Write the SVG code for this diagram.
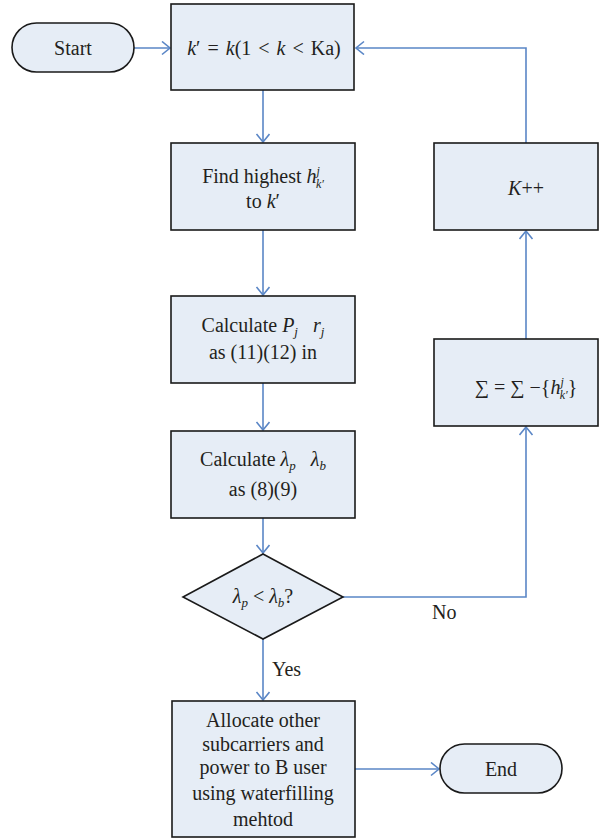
<svg xmlns="http://www.w3.org/2000/svg" width="608" height="838" viewBox="0 0 608 838">
<defs>
<style>
.n{fill:#E6EDF6;stroke:#1a1a1a;stroke-width:1.6}
.t{font-family:"Liberation Serif","Times New Roman",serif;font-size:20px;fill:#231f20;text-anchor:middle}
.l{font-family:"Liberation Serif","Times New Roman",serif;font-size:20px;fill:#231f20}
.i{font-style:italic}
.c{fill:none;stroke:#5A86C6;stroke-width:1.6}
</style>
<marker id="ah" markerUnits="userSpaceOnUse" markerWidth="14" markerHeight="16" refX="9" refY="7" orient="auto">
<path d="M1,0.5 L9,7 L1,13.5" fill="none" stroke="#5A86C6" stroke-width="1.6"/>
</marker>
</defs>
<g id="connectors">
<path class="c" d="M134,48 H170" marker-end="url(#ah)"/>
<path class="c" d="M263,90 V142" marker-end="url(#ah)"/>
<path class="c" d="M263,230 V295" marker-end="url(#ah)"/>
<path class="c" d="M263,383 V430" marker-end="url(#ah)"/>
<path class="c" d="M263,518 V553" marker-end="url(#ah)"/>
<path class="c" d="M263,639 V700" marker-end="url(#ah)"/>
<path class="c" d="M355,769 H439" marker-end="url(#ah)"/>
<path class="c" d="M343,597 H526 V427" marker-end="url(#ah)"/>
<path class="c" d="M526,339 V231" marker-end="url(#ah)"/>
<path class="c" d="M526,143 V48 H356" marker-end="url(#ah)"/>
<text class="l" x="432" y="619">No</text>
<text class="l" x="272" y="676">Yes</text>
</g>
<g id="start">
<rect class="n" x="12" y="23" width="122" height="49" rx="24.5"/>
<text class="t" x="73" y="55">Start</text>
</g>
<g id="assign">
<rect class="n" x="171" y="4" width="183" height="86"/>
<text class="t" x="264" y="55" word-spacing="2"><tspan class="i">k</tspan>′ = <tspan class="i">k</tspan>(1 &lt; <tspan class="i">k</tspan> &lt; Ka)</text>
</g>
<g id="find">
<rect class="n" x="171" y="143" width="184" height="87"/>
<text class="t" x="263" y="183">Find highest <tspan class="i">h</tspan><tspan class="i" font-size="12" dy="-8">j</tspan><tspan class="i" font-size="12" dx="-4" dy="13">k′</tspan></text>
<text class="t" x="263" y="208">to <tspan class="i">k</tspan>′</text>
</g>
<g id="calcP">
<rect class="n" x="171" y="296" width="184" height="87"/>
<text class="t" x="263" y="332">Calculate <tspan class="i">P</tspan><tspan class="i" font-size="13" dy="4">j</tspan><tspan dy="-4" xml:space="preserve">   </tspan><tspan class="i">r</tspan><tspan class="i" font-size="13" dy="4">j</tspan></text>
<text class="t" x="263" y="359">as (11)(12) in</text>
</g>
<g id="calcL">
<rect class="n" x="171" y="431" width="184" height="87"/>
<text class="t" x="263" y="466" xml:space="preserve">Calculate <tspan class="i">λ</tspan><tspan class="i" font-size="13" dy="4">p</tspan><tspan dy="-4">   </tspan><tspan class="i">λ</tspan><tspan class="i" font-size="13" dy="4">b</tspan></text>
<text class="t" x="263" y="496">as (8)(9)</text>
</g>
<g id="decision">
<polygon class="n" points="263,554 343,597 263,639 183,597"/>
<text class="t" x="263" y="603"><tspan class="i">λ</tspan><tspan class="i" font-size="13" dy="4">p</tspan><tspan dy="-4"> &lt; </tspan><tspan class="i">λ</tspan><tspan class="i" font-size="13" dy="4">b</tspan><tspan dy="-4">?</tspan></text>
</g>
<g id="allocate">
<rect class="n" x="172" y="701" width="183" height="136"/>
<text class="t" x="263" y="727">Allocate other</text>
<text class="t" x="263" y="751">subcarriers and</text>
<text class="t" x="263" y="774">power to B user</text>
<text class="t" x="263" y="800">using waterfilling</text>
<text class="t" x="263" y="826">mehtod</text>
</g>
<g id="end">
<rect class="n" x="440" y="744" width="122" height="49" rx="24.5"/>
<text class="t" x="501" y="776">End</text>
</g>
<g id="incr">
<rect class="n" x="434" y="143" width="164" height="87"/>
<text class="t" x="526" y="195"><tspan class="i">K</tspan>++</text>
</g>
<g id="sum">
<rect class="n" x="434" y="339" width="164" height="87"/>
<text class="t" x="526" y="394">∑ = ∑ −{<tspan class="i">h</tspan><tspan class="i" font-size="12" dy="-8">j</tspan><tspan class="i" font-size="12" dx="-4" dy="13">k′</tspan><tspan dy="-5">}</tspan></text>
</g>
</svg>
